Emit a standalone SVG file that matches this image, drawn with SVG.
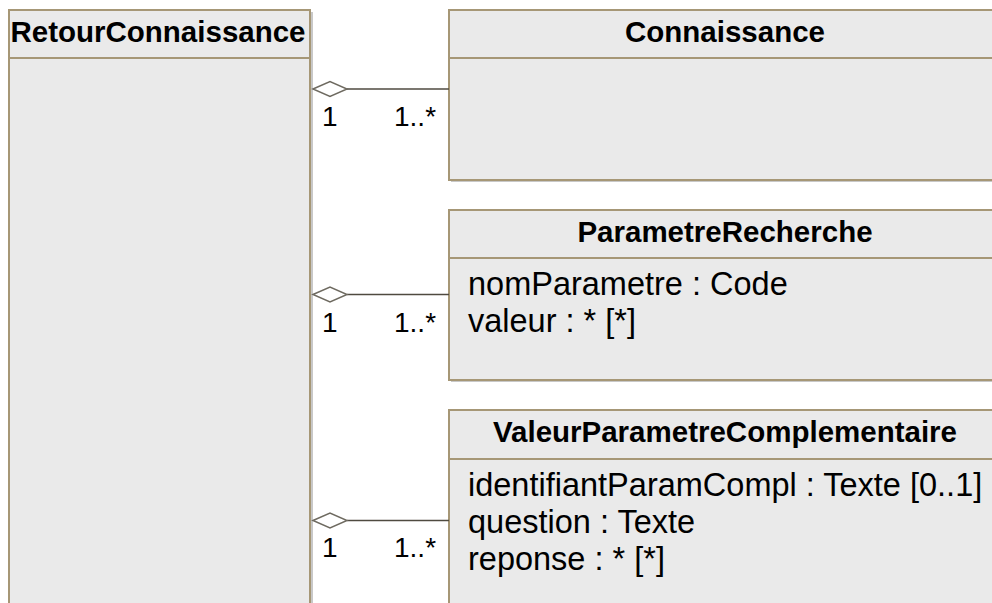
<svg xmlns="http://www.w3.org/2000/svg" width="992" height="603" viewBox="0 0 992 603">
<style>
.box{fill:#eaeaea;stroke:#a69776;stroke-width:2}
.shadow{fill:#c8c8c8;stroke:none}
.sep{stroke:#a69776;stroke-width:2}
.hdr{font-family:"Liberation Sans",Arial,sans-serif;font-weight:bold;font-size:29.5px;fill:#000;text-anchor:middle}
.attr{font-family:"Liberation Sans",Arial,sans-serif;font-size:32.5px;fill:#000}
.mult{font-family:"Liberation Sans",Arial,sans-serif;font-size:28px;fill:#000}
.line{stroke:#4f4a40;stroke-width:1.6;fill:none}
.diamond{fill:#fff;stroke:#6e6a60;stroke-width:1.5}
</style>
<rect width="992" height="603" fill="#fff"/>
<g id="RetourConnaissance">
<rect class="shadow" x="11" y="12" width="302" height="600"/>
<rect class="box" x="9" y="10" width="301" height="600"/>
<line class="sep" x1="9" y1="58" x2="310" y2="58"/>
<text class="hdr" x="158" y="42">RetourConnaissance</text>
</g>
<g id="Connaissance">
<rect class="shadow" x="451" y="12" width="560" height="170"/>
<rect class="box" x="449" y="10" width="560" height="170"/>
<line class="sep" x1="449" y1="58" x2="1009" y2="58"/>
<text class="hdr" x="725" y="42">Connaissance</text>
</g>
<g id="ParametreRecherche">
<rect class="shadow" x="451" y="212" width="560" height="170"/>
<rect class="box" x="449" y="210" width="560" height="170"/>
<line class="sep" x1="449" y1="258" x2="1009" y2="258"/>
<text class="hdr" x="725" y="242">ParametreRecherche</text>
<text class="attr" x="468" y="295">nomParametre : Code</text>
<text class="attr" x="468" y="332">valeur : * [*]</text>
</g>
<g id="ValeurParametreComplementaire">
<rect class="shadow" x="451" y="412" width="560" height="200"/>
<rect class="box" x="449" y="410" width="560" height="200"/>
<line class="sep" x1="449" y1="459" x2="1009" y2="459"/>
<text class="hdr" x="725" y="442">ValeurParametreComplementaire</text>
<text class="attr" x="468" y="496">identifiantParamCompl : Texte [0..1]</text>
<text class="attr" x="468" y="533">question : Texte</text>
<text class="attr" x="468" y="570">reponse : * [*]</text>
</g>
<g id="connectors">
<line class="line" x1="347" y1="89" x2="449" y2="89"/>
<polygon class="diamond" points="313,89 330,81.5 347,89 330,96.5"/>
<text class="mult" x="322" y="126">1</text>
<text class="mult" x="394" y="126">1..*</text>
<line class="line" x1="347" y1="294.5" x2="449" y2="294.5"/>
<polygon class="diamond" points="313,294.5 330,287 347,294.5 330,302"/>
<text class="mult" x="322" y="332">1</text>
<text class="mult" x="394" y="332">1..*</text>
<line class="line" x1="347" y1="520.5" x2="449" y2="520.5"/>
<polygon class="diamond" points="313,520.5 330,513 347,520.5 330,528"/>
<text class="mult" x="322" y="557">1</text>
<text class="mult" x="394" y="557">1..*</text>
</g>
</svg>
